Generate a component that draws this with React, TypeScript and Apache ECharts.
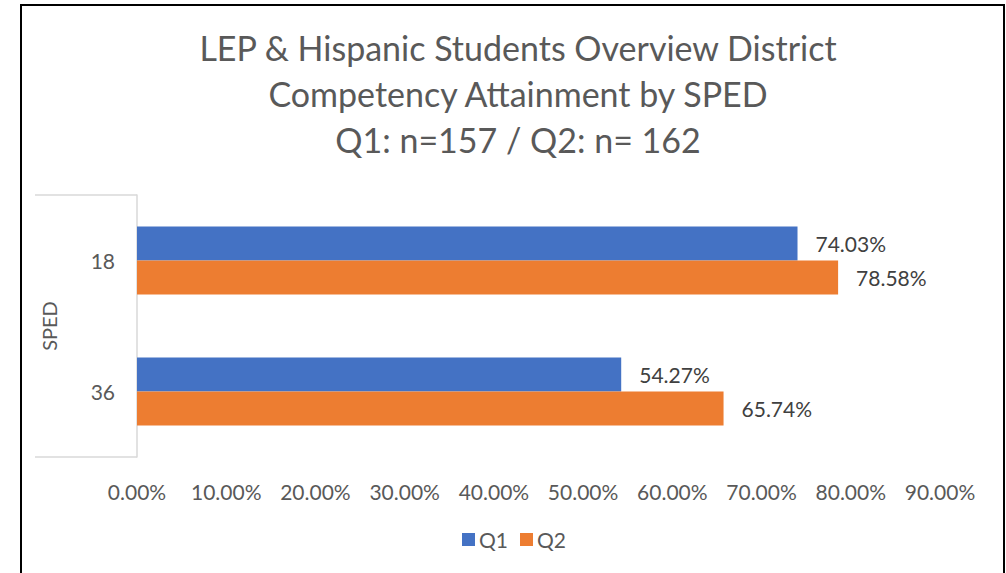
import React, { useEffect, useRef } from "react";
import * as echarts from "echarts";

const categories = ["18", "36"];
const q1Values = [0.7403, 0.5427];
const q2Values = [0.7858, 0.6574];
const seriesNames = ["Q1", "Q2"];
const titleLines = [
  "LEP & Hispanic Students Overview District",
  "Competency Attainment by SPED",
  "Q1: n=157 / Q2: n= 162",
];
const axisName = "SPED";

const FONT = "Lato, 'Liberation Sans', sans-serif";
const pct = (v: number) => (v * 100).toFixed(2) + "%";

export default function App() {
  const ref = useRef<HTMLDivElement>(null);
  useEffect(() => {
    if (!ref.current) return;
    const chart = echarts.init(ref.current, undefined, { renderer: "svg" });
    const labelStyle = {
      show: true,
      position: "right",
      distance: 18,
      formatter: (p: any) => pct(p.value),
      fontFamily: FONT,
      fontSize: 21,
      color: "#404040",
    };
    chart.setOption({
      animation: false,
      backgroundColor: "#ffffff",
      textStyle: { fontFamily: FONT },
      title: {
        text: titleLines.join("\n"),
        left: 513,
        textAlign: "center",
        top: 19,
        textStyle: {
          fontFamily: FONT,
          fontSize: 34,
          fontWeight: "normal",
          color: "#595959",
          lineHeight: 46,
        },
      },
      grid: { left: 137, right: 66, top: 195, bottom: 116, containLabel: false },
      legend: {
        data: seriesNames,
        bottom: 18,
        left: 457,
        itemWidth: 13,
        itemHeight: 13,
        itemGap: 12,
        icon: "rect",
        textStyle: { fontFamily: FONT, fontSize: 21, color: "#595959", padding: [0, 0, 0, -1] },
      },
      xAxis: {
        type: "value",
        min: 0,
        max: 0.9,
        interval: 0.1,
        axisLine: { show: false },
        axisTick: { show: false },
        splitLine: { show: false },
        axisLabel: {
          formatter: (v: number) => pct(v),
          fontFamily: FONT,
          fontSize: 21,
          color: "#595959",
          margin: 24,
        },
      },
      yAxis: {
        type: "category",
        data: categories,
        inverse: true,
        name: axisName,
        nameLocation: "middle",
        nameRotate: 90,
        nameGap: 78,
        nameTextStyle: { fontFamily: FONT, fontSize: 20, color: "#595959" },
        axisLine: { show: true, lineStyle: { color: "#d9d9d9", width: 1.5 } },
        axisTick: { show: false },
        axisLabel: { fontFamily: FONT, fontSize: 21, color: "#595959", margin: 22 },
      },
      graphic: [
        {
          type: "rect",
          shape: { x: 21, y: 5, width: 983, height: 620 },
          style: { fill: "none", stroke: "#000000", lineWidth: 2 },
          silent: true,
        },
        {
          type: "line",
          shape: { x1: 35, y1: 195, x2: 137, y2: 195 },
          style: { stroke: "#d9d9d9", lineWidth: 1.5 },
          silent: true,
        },
        {
          type: "line",
          shape: { x1: 35, y1: 457, x2: 137, y2: 457 },
          style: { stroke: "#d9d9d9", lineWidth: 1.5 },
          silent: true,
        },
      ],
      series: [
        {
          name: seriesNames[0],
          type: "bar",
          data: q1Values,
          barGap: "0%",
          barCategoryGap: "48%",
          itemStyle: { color: "#4472C4" },
          label: labelStyle,
        },
        {
          name: seriesNames[1],
          type: "bar",
          data: q2Values,
          barGap: "0%",
          barCategoryGap: "48%",
          itemStyle: { color: "#ED7D31" },
          label: labelStyle,
        },
      ],
    });
    return () => chart.dispose();
  }, []);
  return (
    <div
      ref={ref}
      style={{ position: "fixed", left: 0, top: 0, width: 1006, height: 573 }}
    />
  );
}
